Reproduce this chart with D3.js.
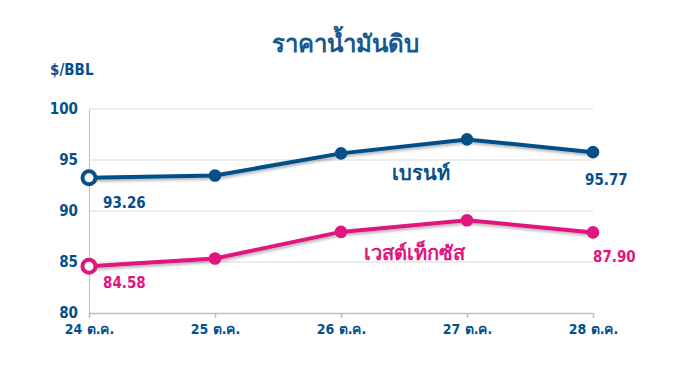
<!DOCTYPE html>
<html>
<head>
<meta charset="utf-8">
<script src="https://cdn.jsdelivr.net/npm/d3@7"></script>
<style>
  body { margin: 0; background: #fff; }
  text { font-family: "DejaVu Sans Condensed", "DejaVu Sans", "Noto Sans", sans-serif; font-weight: bold; }
</style>
</head>
<body>
<div id="chart"></div>
<script>
var width = 685, height = 375;
var padding = { t: 109, r: 92, b: 62, l: 89 };
var chartWidth = width - padding.l - padding.r;
var chartHeight = height - padding.t - padding.b;

// data
const days = ["24 ต.ค.", "25 ต.ค.", "26 ต.ค.", "27 ต.ค.", "28 ต.ค."];
const brent = [93.26, 93.48, 95.65, 97.02, 95.77];
const wti = [84.58, 85.35, 87.95, 89.10, 87.90];
const yTicks = [80, 85, 90, 95, 100];

const blue = "#064f89", pink = "#e0157f";

const svg = d3.select("#chart").append("svg")
    .attr("width", width)
    .attr("height", height);

// soft shadow under the lines
const defs = svg.append("defs");
const shadow = defs.append("filter").attr("id", "shadow")
    .attr("x", "-10%").attr("y", "-30%").attr("width", "120%").attr("height", "160%");
shadow.append("feDropShadow")
    .attr("dx", 1).attr("dy", 2).attr("stdDeviation", 1.5)
    .attr("flood-color", "#000").attr("flood-opacity", 0.3);

svg.append("text")
    .attr("x", 345).attr("y", 52)
    .attr("text-anchor", "middle")
    .attr("fill", "#17588e")
    .style("font-size", "24px")
    .text("ราคาน้ำมันดิบ");

svg.append("text")
    .attr("x", 50).attr("y", 75)
    .attr("fill", blue)
    .style("font-size", "15px")
    .text("$/BBL");

const g = svg.append("g").attr("transform", `translate(${padding.l}, ${padding.t})`);

const x = d3.scalePoint().domain(days).range([0, chartWidth]);
const y = d3.scaleLinear().domain([80, 100]).range([chartHeight, 0]);

// gridlines
g.selectAll(".grid").data(yTicks.slice(1)).enter().append("line")
    .attr("x1", 0).attr("x2", chartWidth)
    .attr("y1", d => y(d)).attr("y2", d => y(d))
    .attr("stroke", "#d9d9d9").attr("stroke-width", 1);

const yAxis = g.append("g")
    .call(d3.axisLeft(y).tickValues(yTicks).tickSize(0).tickPadding(11));
yAxis.select(".domain").attr("stroke", "#bfbfbf");
yAxis.selectAll("text").attr("fill", blue).style("font-size", "15px");

const xAxis = g.append("g").attr("transform", `translate(0, ${chartHeight})`)
    .call(d3.axisBottom(x).tickSizeOuter(0).tickSizeInner(5).tickPadding(6));
xAxis.select(".domain").attr("stroke", "#bfbfbf").attr("stroke-width", 1.5);
xAxis.selectAll(".tick line").attr("stroke", "#bfbfbf").attr("stroke-width", 1.5);
xAxis.selectAll("text").attr("fill", blue).style("font-size", "14px");

const line = d3.line().x((d, i) => x(days[i])).y(d => y(d));

function drawSeries(values, color) {
    g.append("path")
        .datum(values)
        .attr("d", line)
        .attr("fill", "none")
        .attr("stroke", color)
        .attr("stroke-width", 4)
        .attr("filter", "url(#shadow)");
    g.selectAll(null).data(values).enter().append("circle")
        .attr("cx", (d, i) => x(days[i]))
        .attr("cy", d => y(d))
        .attr("r", (d, i) => i === 0 ? 6.5 : 6.3)
        .attr("fill", (d, i) => i === 0 ? "#fff" : color)
        .attr("stroke", color)
        .attr("stroke-width", (d, i) => i === 0 ? 4 : 0);
}

drawSeries(brent, blue);
drawSeries(wti, pink);

// value labels for first and last points
function valueLabel(v, i, color, dx, dy) {
    g.append("text")
        .attr("x", x(days[i]) + dx)
        .attr("y", y(v) + dy)
        .attr("fill", color)
        .style("font-size", "15px")
        .text(v.toFixed(2));
}
valueLabel(brent[0], 0, blue, 14, 30);
valueLabel(wti[0], 0, pink, 14, 22);
valueLabel(brent[4], 4, blue, -8, 33);
valueLabel(wti[4], 4, pink, 0, 30);

// series names
g.append("text")
    .attr("x", x(days[2]) + 80).attr("y", y(brent[2]) + 27)
    .attr("text-anchor", "middle")
    .attr("fill", blue)
    .style("font-size", "20px")
    .text("เบรนท์");
g.append("text")
    .attr("x", x(days[2]) + 73).attr("y", y(wti[2]) + 28)
    .attr("text-anchor", "middle")
    .attr("fill", pink)
    .style("font-size", "20px")
    .text("เวสต์เท็กซัส");
</script>
</body>
</html>
